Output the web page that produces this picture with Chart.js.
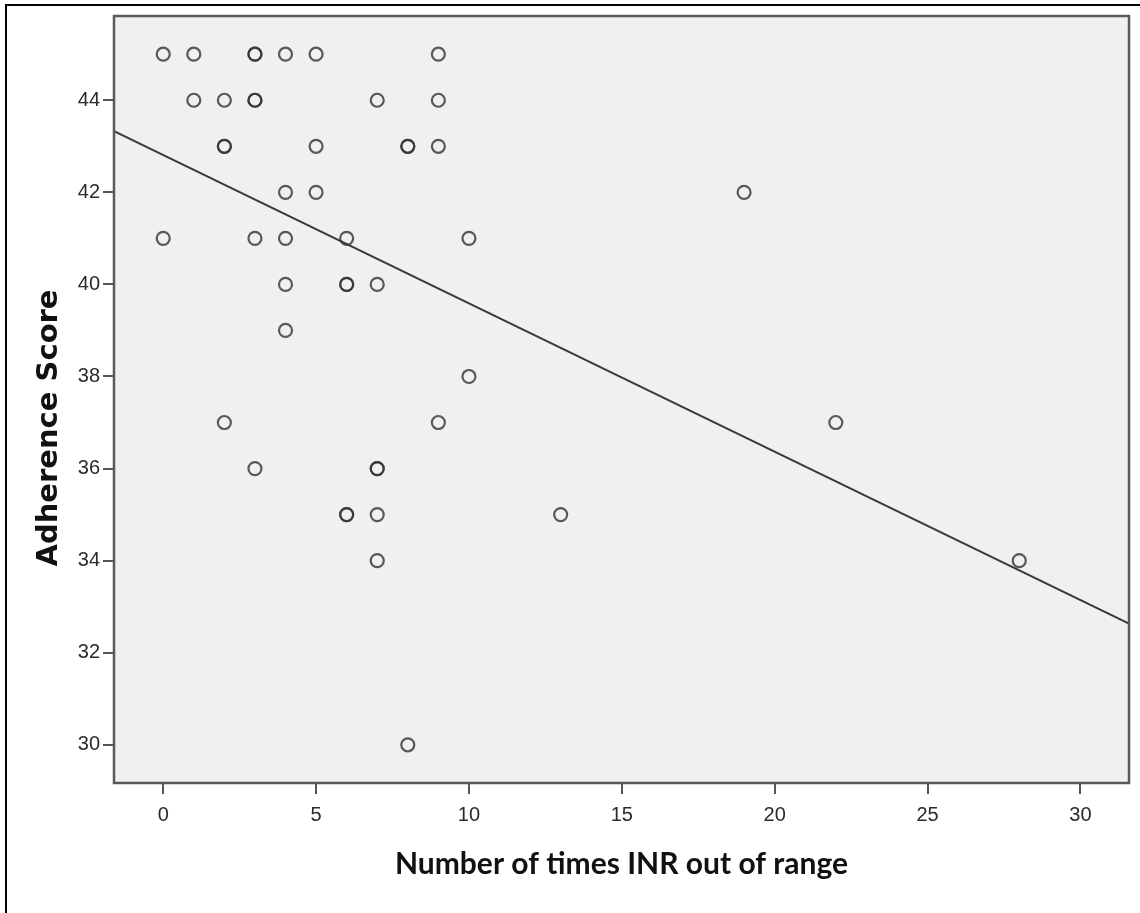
<!DOCTYPE html>
<html><head><meta charset="utf-8">
<script src="https://cdn.jsdelivr.net/npm/chart.js@4"></script>
<style>html,body{margin:0;padding:0;background:#fff}#wrap{width:1140px;height:913px;position:relative}</style>
</head><body><div id="wrap"><canvas id="c" width="1140" height="913"></canvas></div>
<script>
// Observations (duplicates = overlapping, darker markers)
const inrOutOfRange = [0,1,3,3,4,5,9, 1,2,3,3,7,9, 2,2,5,8,8,9, 4,5,19, 0,3,4,6,10, 4,6,6,7, 4, 10, 2,9,22, 3,7,7, 6,6,7,13, 7,28, 8];
const adherenceScore = [45,45,45,45,45,45,45, 44,44,44,44,44,44, 43,43,43,43,43,43, 42,42,42, 41,41,41,41,41, 40,40,40,40, 39, 38, 37,37,37, 36,36,36, 35,35,35,35, 34,34, 30];
// Fit line endpoints (read at plot edges)
const fitLineX = [-1.61, 31.59];
const fitLineY = [43.33, 32.63];
const xTickValues = [0,5,10,15,20,25,30];
const yTickValues = [30,32,34,36,38,40,42,44];
const xRange = [-1.61, 31.59];
const yRange = [29.17, 45.83];
const xAxisTitle = 'Number of times INR out of range';
const yAxisTitle = 'Adherence Score';

const scatterPts = inrOutOfRange.map((x,i)=>({x:x,y:adherenceScore[i]}));
const fitPts = fitLineX.map((x,i)=>({x:x,y:fitLineY[i]}));

const framePlugin = {
  id:'frame',
  beforeDraw(chart){
    const ctx = chart.ctx, a = chart.chartArea;
    ctx.save();
    ctx.fillStyle='#fff'; ctx.fillRect(0,0,chart.width,chart.height);
    ctx.fillStyle='#f0f0f0'; ctx.fillRect(a.left,a.top,a.right-a.left,a.bottom-a.top);
    ctx.strokeStyle='#000'; ctx.lineWidth=2;
    ctx.beginPath(); ctx.moveTo(6,chart.height); ctx.lineTo(6,5); ctx.lineTo(chart.width,5); ctx.stroke();
    ctx.restore();
  },
  afterDraw(chart){
    const ctx = chart.ctx, a = chart.chartArea;
    ctx.save();
    ctx.strokeStyle='#5a5a5a'; ctx.lineWidth=2.5;
    ctx.strokeRect(a.left,a.top,a.right-a.left,a.bottom-a.top);
    // y axis title (offset below the axis centre as in the reference)
    ctx.translate(57, 428);
    ctx.rotate(-Math.PI/2);
    ctx.fillStyle='#111';
    ctx.font="bold 29px 'DejaVu Sans', Verdana, sans-serif";
    ctx.textAlign='center'; ctx.textBaseline='alphabetic';
    ctx.fillText(yAxisTitle, 0, 0);
    ctx.restore();
  }
};

new Chart(document.getElementById('c'), {
  type:'scatter',
  data:{datasets:[
    {type:'line', data:fitPts, borderColor:'#3a3a3a', borderWidth:2, pointRadius:0, fill:false, tension:0, order:2},
    {data:scatterPts, pointRadius:6.5, pointHoverRadius:6.5, pointBorderWidth:2.2, borderColor:'rgba(50,50,50,0.8)', backgroundColor:'rgba(0,0,0,0)', pointStyle:'circle', order:1}
  ]},
  options:{
    responsive:false, animation:false,
    layout:{padding:{left:6,top:16,right:11,bottom:0}},
    plugins:{legend:{display:false}, tooltip:{enabled:false}},
    scales:{
      x:{type:'linear', min:xRange[0], max:xRange[1],
        afterBuildTicks(s){ s.ticks = xTickValues.map(v=>({value:v})); },
        afterFit(s){ s.height = 130; },
        border:{display:false},
        grid:{drawOnChartArea:false, drawTicks:true, tickLength:11, color:'#555', lineWidth:2},
        ticks:{color:'#2a2a2a', padding:9, font:{family:"'Liberation Sans',Arial,sans-serif", size:20}, maxRotation:0, autoSkip:false},
        title:{display:true, text:xAxisTitle, color:'#111', padding:{top:0,bottom:31}, font:{family:"Lato,'Open Sans',sans-serif", size:30, weight:'bold'}}
      },
      y:{type:'linear', min:yRange[0], max:yRange[1],
        afterBuildTicks(s){ s.ticks = yTickValues.map(v=>({value:v})); },
        afterFit(s){ s.width = 108; },
        border:{display:false},
        grid:{drawOnChartArea:false, drawTicks:true, tickLength:11, color:'#555', lineWidth:2},
        ticks:{color:'#2a2a2a', padding:3, font:{family:"'Liberation Sans',Arial,sans-serif", size:20}, autoSkip:false},
        title:{display:false}
      }
    }
  },
  plugins:[framePlugin]
});
</script></body></html>
